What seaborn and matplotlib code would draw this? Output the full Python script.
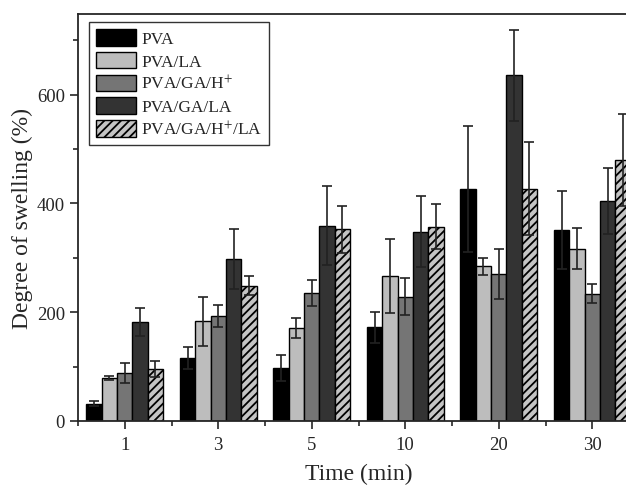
import matplotlib
matplotlib.use('Agg')
import matplotlib.pyplot as plt
from matplotlib.ticker import MultipleLocator, FixedLocator
import numpy as np
import pandas as pd
import seaborn as sns

# Swelling data
times = ["1", "3", "5", "10", "20", "30"]
groups = ["PVA", "PVA/LA", "PVA/GA/H$^{+}$", "PVA/GA/LA", "PVA/GA/H$^{+}$/LA"]
pva = [32, 116, 98, 172, 426, 351]
pva_la = [79, 183, 171, 267, 284, 317]
pva_ga_h = [88, 193, 235, 228, 270, 234]
pva_ga_la = [182, 297, 359, 348, 635, 404]
pva_ga_h_la = [95, 249, 352, 357, 427, 480]
err_pva = [5, 20, 24, 28, 116, 72]
err_pva_la = [4, 45, 18, 68, 15, 37]
err_pva_ga_h = [18, 21, 24, 34, 46, 18]
err_pva_ga_la = [25, 55, 72, 65, 84, 61]
err_pva_ga_h_la = [15, 17, 43, 41, 85, 85]

colors = ["#000000", "#bdbdbd", "#757575", "#333333", "#c4c4c4"]

values = [pva, pva_la, pva_ga_h, pva_ga_la, pva_ga_h_la]
errors = [err_pva, err_pva_la, err_pva_ga_h, err_pva_ga_la, err_pva_ga_h_la]
df = pd.DataFrame({
    "time": [t for _ in groups for t in times],
    "group": [g for g in groups for _ in times],
    "swelling": [v for vals in values for v in vals],
})

sns.set_style("ticks")
plt.rcParams['font.family'] = ['Liberation Serif', 'DejaVu Serif']
plt.rcParams['mathtext.fontset'] = 'stix'
plt.rcParams['hatch.color'] = 'black'
plt.rcParams['hatch.linewidth'] = 1.3

fig = plt.figure(figsize=(6.26, 4.89), dpi=100)
ax = fig.add_axes([78 / 626, 67 / 489, 561 / 626, 407 / 489])

sns.barplot(data=df, x="time", y="swelling", hue="group", order=times,
            hue_order=groups, palette=colors, width=0.82, saturation=1,
            edgecolor="black", linewidth=1.0, ax=ax, legend=False)

bars = list(ax.containers)
for i, cont in enumerate(bars):
    xs = [p.get_x() + p.get_width() / 2 for p in cont.patches]
    hs = [p.get_height() for p in cont.patches]
    if i == 4:
        for p in cont.patches:
            p.set_hatch("////")
    ax.errorbar(xs, hs, yerr=errors[i], fmt="none", ecolor="#222222",
                elinewidth=1.2, capsize=3.5, capthick=1.2, zorder=5)

ax.set_ylim(0, 748)
ax.set_xlim(-0.5, 5.5)
ax.yaxis.set_major_locator(MultipleLocator(200))
ax.yaxis.set_minor_locator(MultipleLocator(100))
ax.xaxis.set_minor_locator(FixedLocator(np.arange(-0.5, 6, 1.0)))
ax.tick_params(axis="both", which="major", length=6, width=1.2, labelsize=13.5)
ax.tick_params(axis="x", which="major", pad=5)
ax.tick_params(axis="both", which="minor", length=3.5, width=1.2)
for s in ["left", "bottom", "top", "right"]:
    ax.spines[s].set_linewidth(1.3)
    ax.spines[s].set_visible(True)

ax.set_xlabel("Time (min)", fontsize=17, labelpad=7)
ax.set_ylabel("Degree of swelling (%)", fontsize=17, labelpad=3)

leg = ax.legend([c.patches[0] for c in bars], groups, loc="upper left",
                bbox_to_anchor=(0.0196, 0.980), borderaxespad=0,
                fontsize=12.5, frameon=True, fancybox=False,
                edgecolor="black", handlelength=2.3, handleheight=1.1,
                labelspacing=0.25, borderpad=0.4, handletextpad=0.3)
leg.get_frame().set_linewidth(1.0)

fig.savefig("out.png", dpi=100)
